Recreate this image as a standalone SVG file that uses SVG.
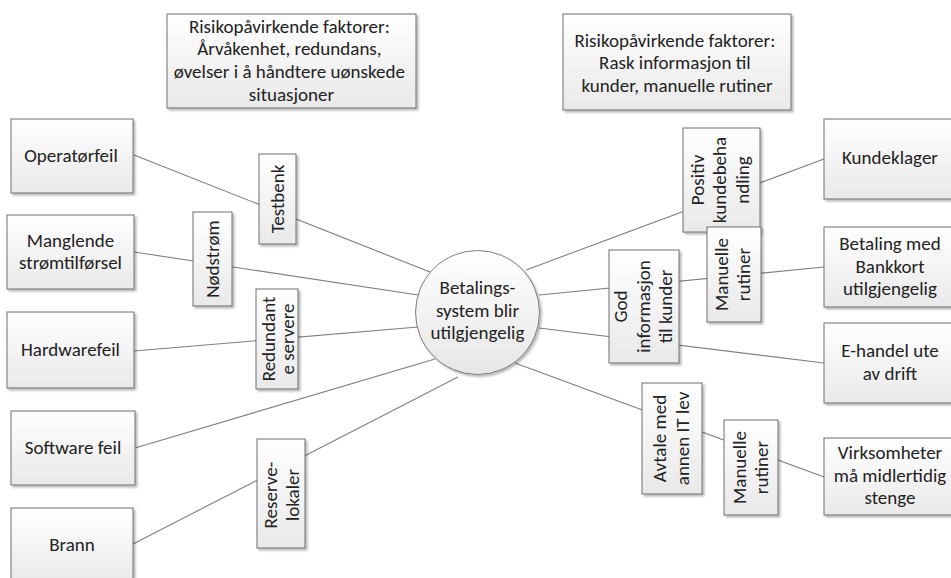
<svg xmlns="http://www.w3.org/2000/svg" width="951" height="578" viewBox="0 0 951 578">
  <defs>
    <linearGradient id="boxFill" x1="0" y1="0" x2="0" y2="1">
      <stop offset="0" stop-color="#ffffff"/>
      <stop offset="1" stop-color="#e9e9e9"/>
    </linearGradient>
    <linearGradient id="circleFill" x1="0" y1="0" x2="0" y2="1">
      <stop offset="0" stop-color="#ffffff"/>
      <stop offset="1" stop-color="#e6e6e6"/>
    </linearGradient>
    <filter id="shadow" x="-10%" y="-10%" width="130%" height="130%">
      <feDropShadow dx="2" dy="2" stdDeviation="1" flood-color="#000" flood-opacity="0.28"/>
    </filter>
  </defs>
  <style>
    .box { fill: url(#boxFill); stroke: #6e6e6e; stroke-width: 1; filter: url(#shadow); }
    .hub { fill: url(#circleFill); stroke: #7a7a7a; stroke-width: 1; filter: url(#shadow); }
    .link { stroke: #7f7f7f; stroke-width: 1.1; fill: none; }
    text { font-family: Carlito, Lato, "Open Sans", "Liberation Sans", sans-serif; font-size: 19px; fill: #222222; text-anchor: middle; }
  </style>
  <rect width="951" height="578" fill="#ffffff"/>

  <!-- connectors: causes -> hub -> consequences -->
  <g id="connectors">
    <line class="link" x1="134" y1="155" x2="430" y2="272"/>
    <line class="link" x1="134" y1="252" x2="418" y2="295"/>
    <line class="link" x1="134" y1="351" x2="418" y2="327"/>
    <line class="link" x1="135" y1="448" x2="435" y2="359"/>
    <line class="link" x1="133" y1="544" x2="458" y2="377"/>
    <line class="link" x1="526" y1="270" x2="824" y2="159"/>
    <line class="link" x1="539" y1="295" x2="824" y2="267"/>
    <line class="link" x1="539" y1="328" x2="824" y2="363"/>
    <line class="link" x1="515" y1="363" x2="824" y2="477"/>
  </g>

  <!-- risk factor notes -->
  <g id="factors-left">
    <rect class="box" x="167" y="14" width="249" height="94"/>
    <text x="291.5" y="32.5">Risikopåvirkende faktorer:
      <tspan x="291.5" y="55">Årvåkenhet, redundans,</tspan>
      <tspan x="291.5" y="78">øvelser i å håndtere uønskede</tspan>
      <tspan x="291.5" y="100.5">situasjoner</tspan>
    </text>
  </g>
  <g id="factors-right">
    <rect class="box" x="563" y="14" width="228" height="96"/>
    <text x="677" y="46.5">Risikopåvirkende faktorer:
      <tspan x="677" y="69">Rask informasjon til</tspan>
      <tspan x="677" y="92">kunder, manuelle rutiner</tspan>
    </text>
  </g>

  <!-- causes -->
  <g id="cause-operator">
    <rect class="box" x="11" y="119" width="122" height="74"/>
    <text x="71" y="162">Operatørfeil</text>
  </g>
  <g id="cause-power">
    <rect class="box" x="7" y="215" width="127" height="74"/>
    <text x="70.5" y="246.5">Manglende<tspan x="70.5" y="269">strømtilførsel</tspan></text>
  </g>
  <g id="cause-hardware">
    <rect class="box" x="7" y="312" width="127" height="76"/>
    <text x="70.5" y="356">Hardwarefeil</text>
  </g>
  <g id="cause-software">
    <rect class="box" x="11" y="411" width="124" height="74"/>
    <text x="73" y="454">Software feil</text>
  </g>
  <g id="cause-fire">
    <rect class="box" x="11" y="508" width="122" height="76"/>
    <text x="72" y="551">Brann</text>
  </g>

  <!-- preventive barriers -->
  <g id="barrier-testbench">
    <rect class="box" x="259" y="154" width="37" height="90"/>
    <text transform="translate(284 199) rotate(-90)">Testbenk</text>
  </g>
  <g id="barrier-backup-power">
    <rect class="box" x="193" y="212" width="39" height="94"/>
    <text transform="translate(219 259) rotate(-90)">Nødstrøm</text>
  </g>
  <g id="barrier-redundant">
    <rect class="box" x="256" y="289" width="42" height="100"/>
    <text transform="translate(277 339) rotate(-90)"><tspan x="0" y="-2.5">Redundant</tspan><tspan x="0" y="17">e servere</tspan></text>
  </g>
  <g id="barrier-backup-site">
    <rect class="box" x="257" y="439" width="48" height="109"/>
    <text transform="translate(281 495) rotate(-90)"><tspan x="0" y="-4">Reserve-</tspan><tspan x="0" y="18">lokaler</tspan></text>
  </g>

  <!-- top event -->
  <g id="top-event">
    <circle class="hub" cx="477.5" cy="312.5" r="62"/>
    <text x="477.5" y="294">Betalings-<tspan x="477.5" y="316.5">system blir</tspan><tspan x="477.5" y="339">utilgjengelig</tspan></text>
  </g>

  <!-- mitigating barriers -->
  <g id="barrier-customer-care">
    <rect class="box" x="683" y="128" width="77" height="104"/>
    <text transform="translate(721.5 180) rotate(-90)"><tspan x="0" y="-18">Positiv</tspan><tspan x="0" y="4.5">kundebeha</tspan><tspan x="0" y="27">ndling</tspan></text>
  </g>
  <g id="barrier-manual-1">
    <rect class="box" x="707" y="227" width="54" height="95"/>
    <text transform="translate(734 274.5) rotate(-90)"><tspan x="0" y="-6.5">Manuelle</tspan><tspan x="0" y="16">rutiner</tspan></text>
  </g>
  <g id="barrier-information">
    <rect class="box" x="609" y="250" width="70" height="113"/>
    <text transform="translate(644 306.5) rotate(-90)"><tspan x="0" y="-17.5">God</tspan><tspan x="0" y="5.5">informasjon</tspan><tspan x="0" y="28">til kunder</tspan></text>
  </g>
  <g id="barrier-it-supplier">
    <rect class="box" x="642" y="383" width="60" height="111"/>
    <text transform="translate(672 438.5) rotate(-90)"><tspan x="0" y="-6">Avtale med</tspan><tspan x="0" y="17">annen IT lev</tspan></text>
  </g>
  <g id="barrier-manual-2">
    <rect class="box" x="724" y="420" width="54" height="95"/>
    <text transform="translate(751 467.5) rotate(-90)"><tspan x="0" y="-5.5">Manuelle</tspan><tspan x="0" y="17">rutiner</tspan></text>
  </g>

  <!-- consequences -->
  <g id="cons-complaints">
    <rect class="box" x="824" y="119" width="134" height="80"/>
    <text x="890" y="164">Kundeklager</text>
  </g>
  <g id="cons-card">
    <rect class="box" x="824" y="227" width="134" height="80"/>
    <text x="890" y="250">Betaling med<tspan x="890" y="272.5">Bankkort</tspan><tspan x="890" y="295">utilgjengelig</tspan></text>
  </g>
  <g id="cons-ecommerce">
    <rect class="box" x="824" y="323" width="134" height="80"/>
    <text x="890" y="357">E-handel ute<tspan x="890" y="380">av drift</tspan></text>
  </g>
  <g id="cons-closing">
    <rect class="box" x="824" y="438" width="134" height="77"/>
    <text x="890" y="459">Virksomheter<tspan x="890" y="481.5">må midlertidig</tspan><tspan x="890" y="504">stenge</tspan></text>
  </g>
</svg>
